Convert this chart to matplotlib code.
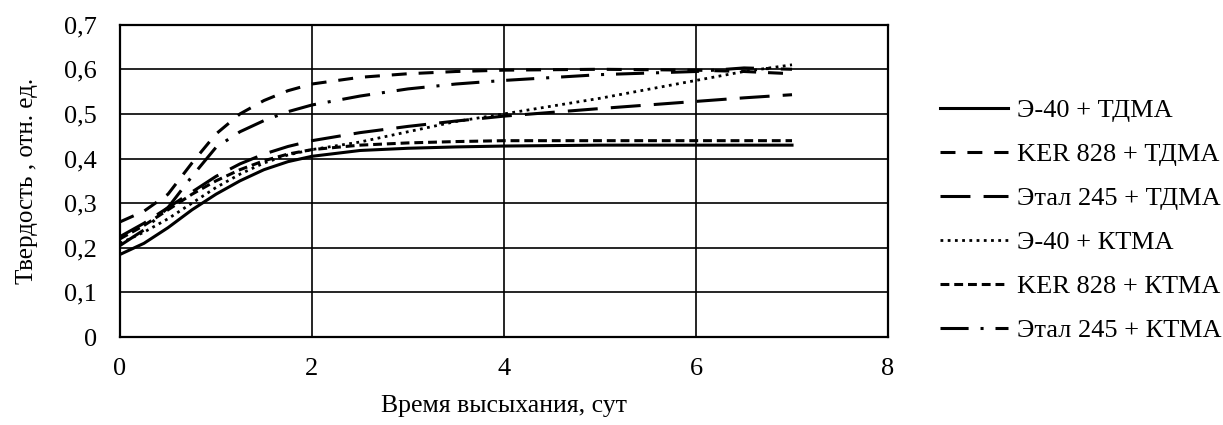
import matplotlib
matplotlib.use('Agg')
from matplotlib import pyplot as plt
from matplotlib.ticker import FuncFormatter

plt.rcParams['font.family'] = ['Liberation Serif', 'DejaVu Serif']

# данные
x_vals = [0, 0.25, 0.5, 0.75, 1, 1.25, 1.5, 1.75, 2, 2.5, 3, 3.5, 4, 5, 6, 6.5, 7]

e40_tdma = [0.185, 0.21, 0.245, 0.285, 0.32, 0.35, 0.375, 0.393, 0.405, 0.418, 0.423, 0.426, 0.428, 0.43, 0.43, 0.43, 0.43]
ker_tdma = [0.258, 0.282, 0.32, 0.39, 0.455, 0.5, 0.53, 0.552, 0.567, 0.582, 0.59, 0.595, 0.598, 0.6, 0.598, 0.595, 0.59]
etal_tdma = [0.225, 0.255, 0.29, 0.325, 0.36, 0.388, 0.41, 0.427, 0.44, 0.458, 0.472, 0.484, 0.495, 0.512, 0.528, 0.536, 0.543]
e40_ktma = [0.21, 0.235, 0.265, 0.3, 0.335, 0.365, 0.39, 0.408, 0.42, 0.437, 0.46, 0.483, 0.5, 0.535, 0.575, 0.595, 0.61]
ker_ktma = [0.22, 0.25, 0.285, 0.32, 0.35, 0.375, 0.395, 0.41, 0.42, 0.43, 0.435, 0.438, 0.44, 0.44, 0.44, 0.44, 0.44]
etal_ktma = [0.205, 0.24, 0.29, 0.36, 0.425, 0.46, 0.485, 0.505, 0.52, 0.54, 0.556, 0.567, 0.575, 0.588, 0.595, 0.603, 0.6]

labels = ['Э-40 + ТДМА', 'KER 828 + ТДМА', 'Этал 245 + ТДМА',
          'Э-40 + КТМА', 'KER 828 + КТМА', 'Этал 245 + КТМА']
series = [e40_tdma, ker_tdma, etal_tdma, e40_ktma, ker_ktma, etal_ktma]
styles = [
    dict(ls='-', lw=2.2),
    dict(ls=(0, (4.9, 3.9)), lw=2.2),
    dict(ls=(0, (9.8, 4.3)), lw=2.2),
    dict(ls=(0, (1, 1.6)), lw=2.0),
    dict(ls=(0, (2.9, 1.6)), lw=2.2),
    dict(ls=(0, (9.2, 3.9, 1, 3.9)), lw=2.2),
]

fig = plt.figure(figsize=(12.23, 4.25), dpi=100)
ax = fig.add_axes([0.0981, 0.207, 0.6280, 0.735])

for y, lab, st in zip(series, labels, styles):
    ax.plot(x_vals, y, color='black', label=lab, dash_capstyle='butt', **st)

ax.set_xlim(0, 8)
ax.set_ylim(0, 0.7)
ax.set_xticks([0, 2, 4, 6, 8])
ax.set_yticks([0, 0.1, 0.2, 0.3, 0.4, 0.5, 0.6, 0.7])
ax.yaxis.set_major_formatter(FuncFormatter(lambda v, p: '0' if v == 0 else ('%.1f' % v).replace('.', ',')))
ax.grid(True, color='black', lw=1.2)
ax.set_axisbelow(True)
for s in ax.spines.values():
    s.set_color('black')
    s.set_linewidth(1.6)
ax.tick_params(length=0, labelsize=19, colors='black')
ax.tick_params(axis='y', pad=16.5)
ax.tick_params(axis='x', pad=15)

ax.set_xlabel('Время высыхания, сут', fontsize=18.5, labelpad=11)
ax.set_ylabel('Твердость , отн. ед.', fontsize=18, labelpad=19)

ax.legend(loc='center left', bbox_to_anchor=(1.068, 0.373), frameon=False,
          fontsize=19, handlelength=2.58, handletextpad=0.34, labelspacing=0.78,
          borderpad=0, borderaxespad=0)

plt.savefig('out.png', dpi=100)
